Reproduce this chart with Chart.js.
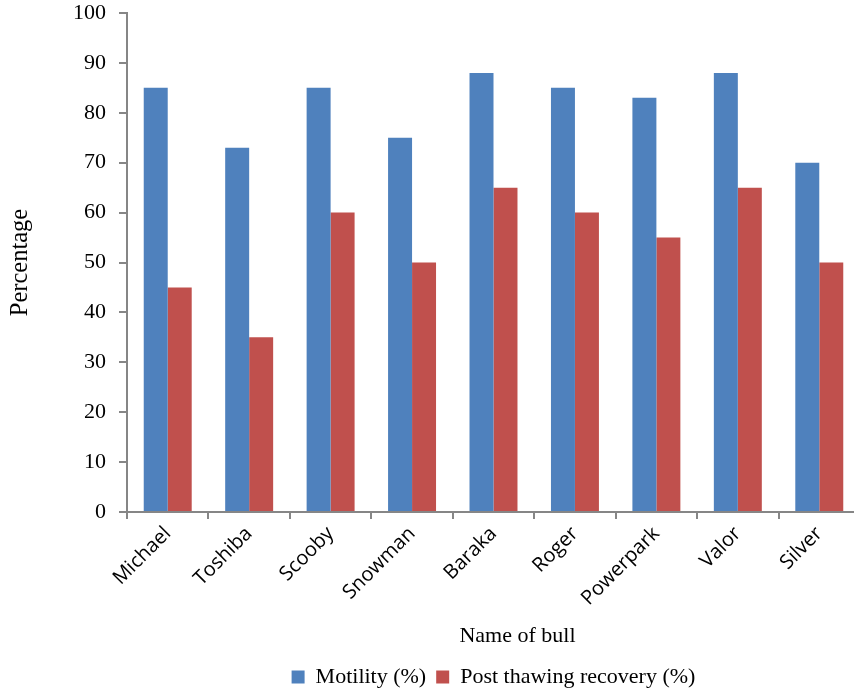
<!DOCTYPE html>
<html>
<head>
<meta charset="utf-8">
<script src="https://cdn.jsdelivr.net/npm/chart.js@4/dist/chart.umd.min.js"></script>
<style>
  html, body { margin: 0; padding: 0; background: #ffffff; overflow: hidden; }
  #wrap { width: 854px; height: 692px; overflow: hidden; }
  canvas { display: block; }
</style>
</head>
<body>
<div id="wrap"><canvas id="chart" width="870" height="698"></canvas></div>
<script>
// Bull names and semen quality measurements
const bulls = ['Michael', 'Toshiba', 'Scooby', 'Snowman', 'Baraka', 'Roger', 'Powerpark', 'Valor', 'Silver'];
const motility = [85, 73, 85, 75, 88, 85, 83, 88, 70];
const postThaw = [45, 35, 60, 50, 65, 60, 55, 65, 50];
const seriesNames = ['Motility (%)', 'Post thawing recovery (%)'];
const yAxisTitle = 'Percentage';
const xAxisTitle = 'Name of bull';

const serif = '"Liberation Serif", "Times New Roman", serif';
const sans = '"Open Sans", "Noto Sans", sans-serif';
const axisGray = '#868686';

// Category axis title, centred a little right of the plot centre
const xTitlePlugin = {
  id: 'xTitle',
  afterDraw(chart, args, opts) {
    const { ctx, chartArea } = chart;
    ctx.save();
    ctx.font = '22px ' + serif;
    ctx.fillStyle = '#000';
    ctx.textAlign = 'center';
    ctx.textBaseline = 'middle';
    const cx = (chartArea.left + chartArea.right) / 2 + opts.shift;
    ctx.fillText(opts.text, cx, chartArea.bottom + opts.gap);
    ctx.restore();
  }
};

new Chart(document.getElementById('chart'), {
  type: 'bar',
  data: {
    labels: bulls,
    datasets: [
      { label: seriesNames[0], data: motility, backgroundColor: '#4F81BD', borderWidth: 0 },
      { label: seriesNames[1], data: postThaw, backgroundColor: '#C0504D', borderWidth: 0 }
    ]
  },
  options: {
    responsive: false,
    animation: false,
    devicePixelRatio: 1,
    datasets: { bar: { categoryPercentage: 0.589, barPercentage: 1.0 } },
    layout: { padding: { left: 0, right: 10, top: 13, bottom: 0 } },
    plugins: {
      tooltip: { enabled: false },
      legend: {
        position: 'bottom',
        fullSize: false,
        labels: {
          boxWidth: 13,
          boxHeight: 13,
          padding: 10,
          color: '#000',
          font: { family: serif, size: 22 }
        }
      },
      xTitle: { text: xAxisTitle, shift: 24, gap: 124 }
    },
    scales: {
      x: {
        afterFit(scale) { scale.height = 144; },
        grid: {
          display: true,
          drawOnChartArea: false,
          drawTicks: true,
          tickLength: 7,
          color: axisGray,
          lineWidth: 2,
          offset: true
        },
        border: { display: true, color: axisGray, width: 2 },
        ticks: {
          minRotation: 45,
          maxRotation: 45,
          autoSkip: false,
          padding: 3,
          color: '#000',
          font: { family: sans, size: 20 }
        }
      },
      y: {
        min: 0,
        max: 100,
        afterFit(scale) {
          scale.width = 127;
          scale.paddingTop = 0;
          scale.paddingBottom = 0;
        },
        grid: {
          display: true,
          drawOnChartArea: false,
          drawTicks: true,
          tickLength: 8,
          color: axisGray,
          lineWidth: 2
        },
        border: { display: true, color: axisGray, width: 2 },
        ticks: {
          stepSize: 10,
          padding: 13,
          color: '#000',
          font: { family: serif, size: 22 }
        },
        title: {
          display: true,
          text: yAxisTitle,
          color: '#000',
          font: { family: serif, size: 24.5 },
          padding: { top: 6, bottom: 0 }
        }
      }
    }
  },
  plugins: [xTitlePlugin]
});
</script>
</body>
</html>
